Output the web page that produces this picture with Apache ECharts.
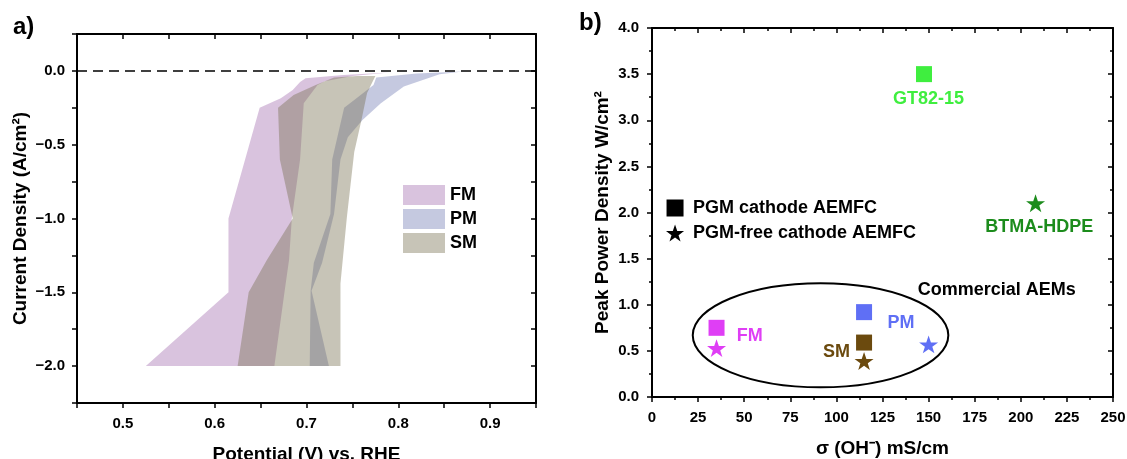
<!DOCTYPE html>
<html>
<head>
<meta charset="utf-8">
<script src="https://cdn.jsdelivr.net/npm/echarts@6/dist/echarts.min.js"></script>
<style>
  html, body { margin: 0; padding: 0; background: #fff; }
  #chart { width: 1127px; height: 459px; }
</style>
</head>
<body>
<div id="chart"></div>
<script>
// panel a) : shaded polarisation bands, [potential V, current A/cm2]
// left edge listed bottom -> top, right edge top -> bottom
var fmLeft  = [[0.525,-2.0],[0.615,-1.5],[0.615,-1.0],[0.649,-0.25],[0.672,-0.185],[0.685,-0.13],[0.693,-0.075],[0.699,-0.05],[0.74,-0.028],[0.79,-0.01]];
var fmRight = [[0.75,-0.035],[0.72,-0.07],[0.712,-0.095],[0.697,-0.22],[0.693,-0.6],[0.684,-1.0],[0.681,-1.28],[0.676,-1.5],[0.665,-2.0]];
var pmLeft  = [[0.7035,-2.0],[0.7045,-1.49],[0.708,-1.3],[0.726,-0.97],[0.728,-0.6],[0.741,-0.25],[0.752,-0.197],[0.773,-0.095],[0.776,-0.045],[0.82,-0.018],[0.87,-0.004]];
var pmRight = [[0.845,-0.022],[0.806,-0.106],[0.781,-0.219],[0.761,-0.332],[0.745,-0.45],[0.737,-0.6],[0.73,-0.97],[0.717,-1.3],[0.7055,-1.49],[0.7244,-2.0]];
var smLeft  = [[0.625,-2.0],[0.637,-1.5],[0.657,-1.28],[0.685,-1.0],[0.671,-0.6],[0.669,-0.25],[0.686,-0.163],[0.71,-0.095],[0.73,-0.045],[0.755,-0.035]];
var smRight = [[0.775,-0.035],[0.766,-0.15],[0.76,-0.33],[0.752,-0.55],[0.744,-0.99],[0.737,-1.44],[0.737,-2.0]];
var zeroLine = [[0.45,0],[0.95,0]];

// panel b) : conductivity (mS/cm) vs peak power density (W/cm2)
var squareNames = ['GT82-15','FM','PM','SM'];
var squareX = [147.5, 35, 115, 115];
var squareY = [3.5, 0.75, 0.92, 0.59];
var starNames = ['BTMA-HDPE','FM','SM','PM'];
var starX = [208, 35, 115, 150];
var starY = [2.1, 0.53, 0.39, 0.57];
var noteNames = ['GT82-15','BTMA-HDPE','Commercial AEMs','FM','PM','SM'];
var noteX = [150, 210, 187, 53, 135, 100];
var noteY = [3.23, 1.84, 1.155, 0.66, 0.80, 0.49];
var ellipseCenter = [91.4, 0.669];
var ellipseRadius = [69.3, 0.564];

var memberColor = {
  'GT82-15': '#3fee3f', 'BTMA-HDPE': '#1c8c1c', 'FM': '#df3ef5',
  'PM': '#5f6ff5', 'SM': '#6b4a0e', 'Commercial AEMs': '#000'
};
var STAR = 'path://M50,0 L61.8,35.1 L98.1,35.1 L68.8,56.8 L79.4,90.5 L50,69.1 L20.6,90.5 L31.2,56.8 L1.9,35.1 L38.2,35.1 Z';
var SQUARE = 'path://M0,0 L10,0 L10,10 L0,10 Z';
var FONT = 'Arial, "Liberation Sans", sans-serif';

var myChart = echarts.init(document.getElementById('chart'));

function band(name, left, right, color) {
  var pts = left.concat(right);
  return {
    name: name, type: 'custom', xAxisIndex: 0, yAxisIndex: 0,
    data: pts, encode: { x: 0, y: 1 },
    itemStyle: { color: color },
    silent: true,
    renderItem: function (params, api) {
      if (params.dataIndex !== 0) return;
      return {
        type: 'polygon',
        shape: { points: pts.map(function (p) { return api.coord(p); }) },
        style: { fill: color }
      };
    }
  };
}

// frame axis: labelled side or mirrored side with inward ticks
function axis(opt, mirror) {
  var a = {
    gridIndex: opt.grid, type: 'value', min: opt.min, max: opt.max, interval: opt.interval,
    position: opt.position,
    axisLine: { show: true, onZero: false, lineStyle: { color: '#000', width: 2 } },
    axisTick: { show: true, inside: mirror, length: 5, lineStyle: { color: '#000', width: 1.5 } },
    minorTick: opt.minor ? { show: true, splitNumber: 2, length: 3, lineStyle: { color: '#000', width: 1.5 } } : { show: false },
    splitLine: { show: false },
    axisLabel: mirror ? { show: false } : {
      show: true, color: '#000', fontWeight: 'bold', fontSize: 15, fontFamily: FONT,
      margin: opt.margin, formatter: opt.formatter
    }
  };
  if (!mirror && opt.name) {
    a.name = opt.name;
    a.nameLocation = 'middle';
    a.nameGap = opt.nameGap;
    a.nameTextStyle = { color: '#000', fontWeight: 'bold', fontSize: 19, fontFamily: FONT };
  }
  return a;
}

function halfStep(v) {
  return Math.abs(v * 2 - Math.round(v * 2)) < 1e-6;
}

var xA = { grid: 0, min: 0.45, max: 0.95, interval: 0.05, margin: 13, nameGap: 42,
  name: 'Potential (V) vs. RHE',
  formatter: function (v) { return Math.abs(v * 10 - Math.round(v * 10)) < 1e-6 ? v.toFixed(1) : ''; } };
var yA = { grid: 0, min: -2.25, max: 0.25, interval: 0.25, margin: 12, nameGap: 47,
  name: 'Current Density (A/cm²)',
  formatter: function (v) { return halfStep(v) ? v.toFixed(1).replace('-', '\u2212') : ''; } };
var xB = { grid: 1, min: 0, max: 250, interval: 25, minor: true, margin: 13, nameGap: 42,
  name: 'σ (OH⁻) mS/cm', formatter: function (v) { return String(v); } };
var yB = { grid: 1, min: 0, max: 4, interval: 0.5, minor: true, margin: 13, nameGap: 40,
  name: 'Peak Power Density W/cm²', formatter: function (v) { return v.toFixed(1); } };

function pts(names, xs, ys) {
  return names.map(function (n, i) {
    return { name: n, value: [xs[i], ys[i]], itemStyle: { color: memberColor[n], opacity: 1 } };
  });
}

var option = {
  animation: false,
  backgroundColor: '#fff',
  title: [
    { text: 'a)', left: 8, top: 10, textStyle: { fontSize: 24, fontWeight: 'bold', color: '#000', fontFamily: FONT } },
    { text: 'b)', left: 574, top: 6, textStyle: { fontSize: 24, fontWeight: 'bold', color: '#000', fontFamily: FONT } }
  ],
  grid: [
    { left: 77, top: 34, width: 459, height: 369, containLabel: false, outerBoundsMode: 'none' },
    { left: 652, top: 28, width: 461, height: 369, containLabel: false, outerBoundsMode: 'none' }
  ],
  legend: [
    {
      data: [{ name: 'FM', icon: 'rect' }, { name: 'PM', icon: 'rect' }, { name: 'SM', icon: 'rect' }],
      orient: 'vertical', left: 398, top: 180, itemWidth: 42, itemHeight: 20, itemGap: 4,
      textStyle: { color: '#000', fontWeight: 'bold', fontSize: 18, fontFamily: FONT },
      selectedMode: false
    },
    {
      data: [{ name: 'PGM cathode AEMFC', icon: SQUARE }, { name: 'PGM-free cathode AEMFC', icon: STAR }],
      orient: 'vertical', left: 661, top: 194, itemWidth: 26, itemHeight: 17, itemGap: 7,
      textStyle: { color: '#000', fontWeight: 'bold', fontSize: 18, fontFamily: FONT },
      selectedMode: false
    }
  ],
  xAxis: [axis(xA, false), axis(Object.assign({}, xA, { position: 'top' }), true),
          axis(xB, false), axis(Object.assign({}, xB, { position: 'top' }), true)],
  yAxis: [axis(yA, false), axis(Object.assign({}, yA, { position: 'right' }), true),
          axis(yB, false), axis(Object.assign({}, yB, { position: 'right' }), true)],
  series: [
    band('FM', fmLeft, fmRight, 'rgba(160,105,172,0.4)'),
    band('PM', pmLeft, pmRight, 'rgba(110,120,177,0.4)'),
    band('SM', smLeft, smRight, 'rgba(115,107,75,0.4)'),
    {
      type: 'line', xAxisIndex: 0, yAxisIndex: 0, data: zeroLine, symbol: 'none', silent: true,
      lineStyle: { color: '#000', width: 1.5, type: [10, 6] }
    },
    {
      type: 'custom', xAxisIndex: 2, yAxisIndex: 2, silent: true,
      data: [ellipseCenter.concat(ellipseRadius)], encode: { x: 0, y: 1 },
      renderItem: function (params, api) {
        var c = api.coord([api.value(0), api.value(1)]);
        var r = api.size([api.value(2), api.value(3)]);
        return { type: 'ellipse', shape: { cx: c[0], cy: c[1], rx: r[0], ry: r[1] },
                 style: { fill: 'none', stroke: '#000', lineWidth: 2 } };
      }
    },
    {
      name: 'PGM cathode AEMFC', type: 'scatter', xAxisIndex: 2, yAxisIndex: 2,
      symbol: SQUARE, symbolSize: 16, itemStyle: { color: '#000', opacity: 1 }, silent: true,
      data: pts(squareNames, squareX, squareY)
    },
    {
      name: 'PGM-free cathode AEMFC', type: 'scatter', xAxisIndex: 2, yAxisIndex: 2,
      symbol: STAR, symbolSize: 19, symbolKeepAspect: true, itemStyle: { color: '#000', opacity: 1 }, silent: true,
      data: pts(starNames, starX, starY)
    },
    {
      type: 'scatter', xAxisIndex: 2, yAxisIndex: 2, symbolSize: 0.1, silent: true,
      itemStyle: { color: 'transparent', opacity: 1 },
      data: noteNames.map(function (n, i) {
        return { name: n, value: [noteX[i], noteY[i]],
                 label: { color: memberColor[n] } };
      }),
      label: { show: true, position: 'inside', formatter: '{b}', fontWeight: 'bold', fontSize: 18,
               fontFamily: FONT, opacity: 1 }
    }
  ]
};

myChart.setOption(option, true);
</script>
</body>
</html>
